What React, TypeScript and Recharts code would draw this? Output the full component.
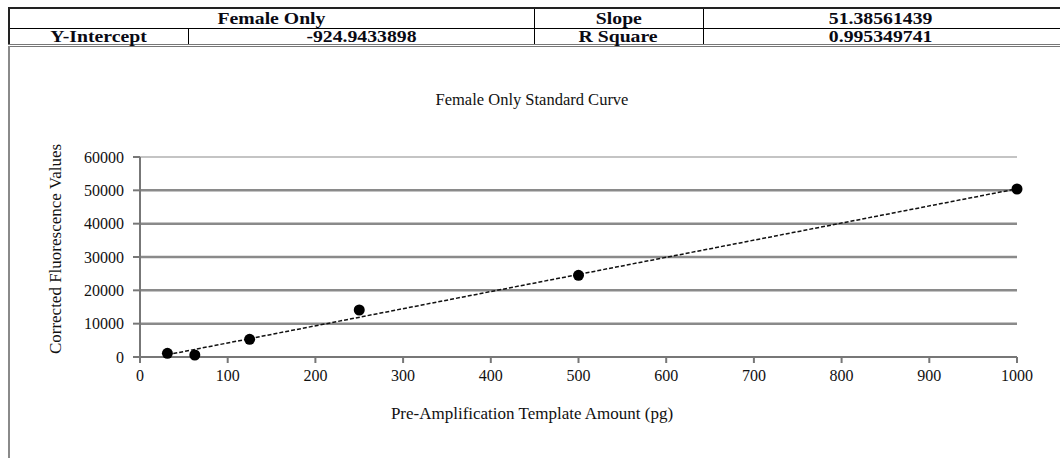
import { CartesianGrid, ReferenceLine, Scatter, ScatterChart, XAxis, YAxis } from "recharts"

const amounts = [31.25, 62.5, 125, 250, 500, 1000]
const fluorescence = [1100, 600, 5300, 14100, 24500, 50400]
const trendAmounts = [31.25, 1000]
const trendValues = [681, 50461]
const xTicks = [0, 100, 200, 300, 400, 500, 600, 700, 800, 900, 1000]
const yTicks = [0, 10000, 20000, 30000, 40000, 50000, 60000]

const summary = {
  name: "Female Only",
  slope: "51.38561439",
  intercept: "-924.9433898",
  rSquare: "0.995349741",
}

const points = amounts.map((x, i) => ({ x, y: fluorescence[i] }))
const trend = trendAmounts.map((x, i) => ({ x, y: trendValues[i] }))

const serif = "'Liberation Serif', 'Times New Roman', serif"

const cell = {
  border: "1px solid #000",
  padding: 0,
  textAlign: "center" as const,
  verticalAlign: "top" as const,
  fontWeight: 700,
  fontSize: 17,
  color: "#0a0a14",
  whiteSpace: "nowrap" as const,
}

// the table text in the reference is a little wider than Liberation Serif
const Wide = ({ children, lh }: { children: string; lh: number }) => (
  <span style={{ display: "inline-block", lineHeight: `${lh}px`, height: lh, verticalAlign: "top", transform: "scaleX(1.16)" }}>
    {children}
  </span>
)

const Dot = (props: any) => <circle cx={props.cx} cy={props.cy} r={5.5} fill="#000" />

const App = () => {
  const row1 = { ...cell, lineHeight: "19px", height: 19 }
  const row2 = { ...cell, lineHeight: "15px", height: 15 }
  return (
    <div style={{ position: "absolute", left: 0, top: 0, width: 1060, height: 458, overflow: "hidden", background: "#fff", fontFamily: serif }}>
      <table
        style={{
          position: "absolute",
          left: 8,
          top: 7,
          width: 1080,
          borderCollapse: "collapse",
          borderTop: "2px solid #222",
          borderLeft: "2px solid #222",
          borderBottom: "3px double #777",
          tableLayout: "fixed",
        }}
      >
        <colgroup>
          <col style={{ width: 179 }} />
          <col style={{ width: 346 }} />
          <col style={{ width: 169 }} />
          <col style={{ width: 386 }} />
        </colgroup>
        <tbody>
          <tr>
            <td colSpan={2} style={row1}><Wide lh={19}>{summary.name}</Wide></td>
            <td style={row1}><Wide lh={19}>Slope</Wide></td>
            <td style={{ ...row1, paddingRight: 30 }}><Wide lh={19}>{summary.slope}</Wide></td>
          </tr>
          <tr>
            <td style={row2}><Wide lh={15}>Y-Intercept</Wide></td>
            <td style={row2}><Wide lh={15}>{summary.intercept}</Wide></td>
            <td style={row2}><Wide lh={15}>R Square</Wide></td>
            <td style={{ ...row2, paddingRight: 30 }}><Wide lh={15}>{summary.rSquare}</Wide></td>
          </tr>
        </tbody>
      </table>

      <div style={{ position: "absolute", left: 8, top: 46, width: 2, height: 412, background: "#8a8a8a" }} />

      <div style={{ position: "absolute", left: 0, top: 90, width: 1064, textAlign: "center", fontSize: 16.5, color: "#111" }}>
        Female Only Standard Curve
      </div>
      <div style={{ position: "absolute", left: 0, top: 404, width: 1064, textAlign: "center", fontSize: 17, color: "#111" }}>
        Pre-Amplification Template Amount (pg)
      </div>
      <div style={{ position: "absolute", left: 56, top: 249, width: 0, height: 0 }}>
        <div style={{ position: "absolute", left: -150, top: -10, width: 300, textAlign: "center", fontSize: 17, color: "#111", transform: "rotate(-90deg)", whiteSpace: "nowrap" }}>
          Corrected Fluorescence Values
        </div>
      </div>

      <div style={{ position: "absolute", left: 0, top: 0 }}>
        <ScatterChart width={1060} height={458} margin={{ top: 157, right: 43, bottom: 71, left: 0 }}>
          <CartesianGrid horizontal={false} vertical={false} />
          <XAxis
            type="number"
            dataKey="x"
            domain={[0, 1000]}
            ticks={xTicks}
            height={30}
            tickSize={6}
            tickMargin={7}
            axisLine={{ stroke: "#777", strokeWidth: 2 }}
            tickLine={{ stroke: "#777", strokeWidth: 2 }}
            tick={{ fill: "#111", fontSize: 16, fontFamily: serif }}
          />
          <YAxis
            type="number"
            dataKey="y"
            domain={[0, 60000]}
            ticks={yTicks}
            width={140}
            tickSize={7}
            tickMargin={9}
            axisLine={{ stroke: "#777", strokeWidth: 2 }}
            tickLine={{ stroke: "#777", strokeWidth: 2 }}
            tick={{ fill: "#111", fontSize: 16, fontFamily: serif }}
          />
          {yTicks.slice(1).map((v) => (
            <ReferenceLine
              key={v}
              y={v}
              stroke={v === 60000 ? "#b0b0b0" : "#8a8a8a"}
              strokeWidth={v === 60000 ? 1.5 : 2.5}
            />
          ))}
          <Scatter
            data={trend}
            line={{ stroke: "#111", strokeWidth: 1.5, strokeDasharray: "4 2" }}
            shape={() => null}
            isAnimationActive={false}
          />
          <Scatter data={points} shape={Dot} isAnimationActive={false} />
        </ScatterChart>
      </div>
    </div>
  )
}

export default App
